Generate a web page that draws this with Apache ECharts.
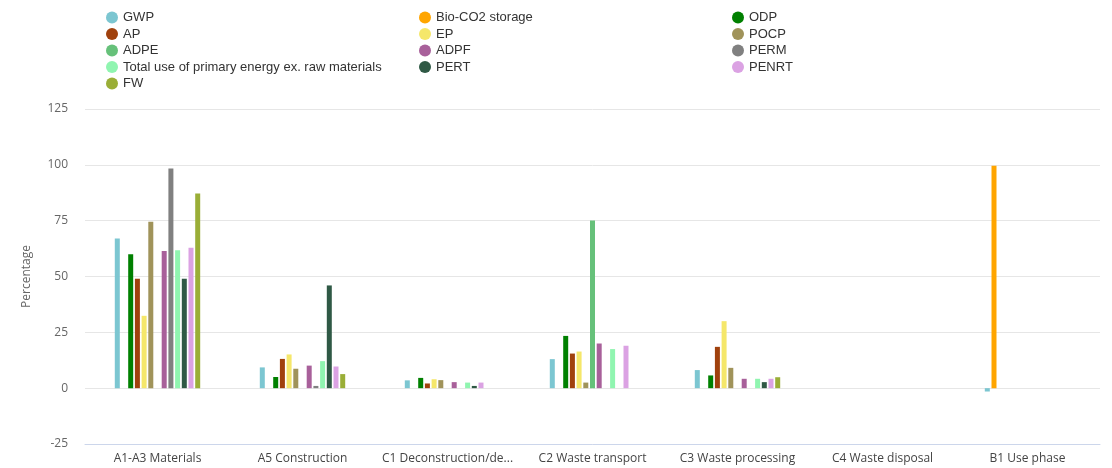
<!DOCTYPE html>
<html>
<head>
<meta charset="utf-8">
<script src="https://cdn.jsdelivr.net/npm/echarts@6/dist/echarts.min.js"></script>
<style>
  html, body { margin: 0; padding: 0; background: #fff; }
</style>
</head>
<body>
<div id="myChart" style="width: 1112px; height: 468px;"></div>
<script>
// categories (x axis)
var stages = ["A1-A3 Materials", "A5 Construction", "C1 Deconstruction/demolition",
  "C2 Waste transport", "C3 Waste processing", "C4 Waste disposal", "B1 Use phase"];

// one array per indicator, values in % per stage
var gwp     = [67, 9.3, 3.5, 13, 8.1, 0, -1.5];
var bioCo2  = [0, 0, 0, 0, 0, 0, 99.6];
var odp     = [60, 5, 4.6, 23.4, 5.7, 0, 0];
var ap      = [49, 13.1, 2.1, 15.5, 18.5, 0, 0];
var ep      = [32.4, 15.1, 4, 16.4, 30, 0, 0];
var pocp    = [74.5, 8.7, 3.6, 2.5, 9.1, 0, 0];
var adpe    = [0, 0, 0, 75.1, 0, 0, 0];
var adpf    = [61.4, 10.1, 2.7, 20, 4.2, 0, 0];
var perm    = [98.4, 1, 0, 0, 0, 0, 0];
var totalPe = [61.8, 12.1, 2.5, 17.5, 4.2, 0, 0];
var pert    = [49, 46, 1, 0, 2.7, 0, 0];
var penrt   = [62.9, 9.7, 2.5, 19, 4.2, 0, 0];
var fw      = [87.2, 6.3, 0, 0, 4.9, 0, 0];

var yTicks = [-25, 0, 25, 50, 75, 100, 125];

var names = ["GWP", "Bio-CO2 storage", "ODP", "AP", "EP", "POCP", "ADPE", "ADPF",
  "PERM", "Total use of primary energy ex. raw materials", "PERT", "PENRT", "FW"];
var values = [gwp, bioCo2, odp, ap, ep, pocp, adpe, adpf, perm, totalPe, pert, penrt, fw];
var colors = ["#7cc6d1", "#ffa500", "#008000", "#a0410d", "#f5e76a", "#a0935a", "#66c17a",
  "#a8609a", "#808080", "#90f5b0", "#2f5945", "#dba2e3", "#9aae37"];

let myChart = echarts.init(document.getElementById("myChart"));

let series = [];
for (let i = 0; i < names.length; i++) {
  series.push({
    name: names[i],
    type: "bar",
    barWidth: 5,
    barGap: "34%",
    data: values[i],
    itemStyle: { color: colors[i] }
  });
}

// legend laid out row by row over three columns
function legendCol(idx, left) {
  var d = [];
  for (let i = idx; i < names.length; i += 3) d.push(names[i]);
  return {
    orient: "vertical",
    left: left,
    top: 6,
    icon: "circle",
    itemWidth: 12,
    itemHeight: 12,
    itemGap: 3.5,
    data: d,
    textStyle: { color: "#333", fontSize: 13, fontFamily: "Liberation Sans, Arial" }
  };
}

let option = {
  color: colors,
  animation: false,
  legend: [legendCol(0, 101), legendCol(1, 414), legendCol(2, 727)],
  grid: { left: 85, right: 12, top: 109, bottom: 24 },
  xAxis: {
    type: "category",
    data: stages,
    axisTick: { show: false },
    axisLine: { onZero: false, lineStyle: { color: "#ccd6eb" } },
    axisLabel: {
      color: "#444",
      fontSize: 12,
      fontFamily: "Open Sans",
      margin: 9,
      interval: 0,
      width: 140,
      overflow: "truncate",
      ellipsis: "..."
    }
  },
  yAxis: {
    type: "value",
    min: yTicks[0],
    max: yTicks[yTicks.length - 1],
    interval: 25,
    name: "Percentage",
    nameLocation: "middle",
    nameGap: 52,
    nameTextStyle: { color: "#666", fontSize: 12, fontFamily: "Open Sans" },
    axisLine: { show: false },
    axisLabel: { color: "#666", fontSize: 12, fontFamily: "Open Sans", margin: 17 },
    splitLine: { lineStyle: { color: "#e6e6e6" } }
  },
  series: series
};

myChart.setOption(option);
</script>
</body>
</html>
